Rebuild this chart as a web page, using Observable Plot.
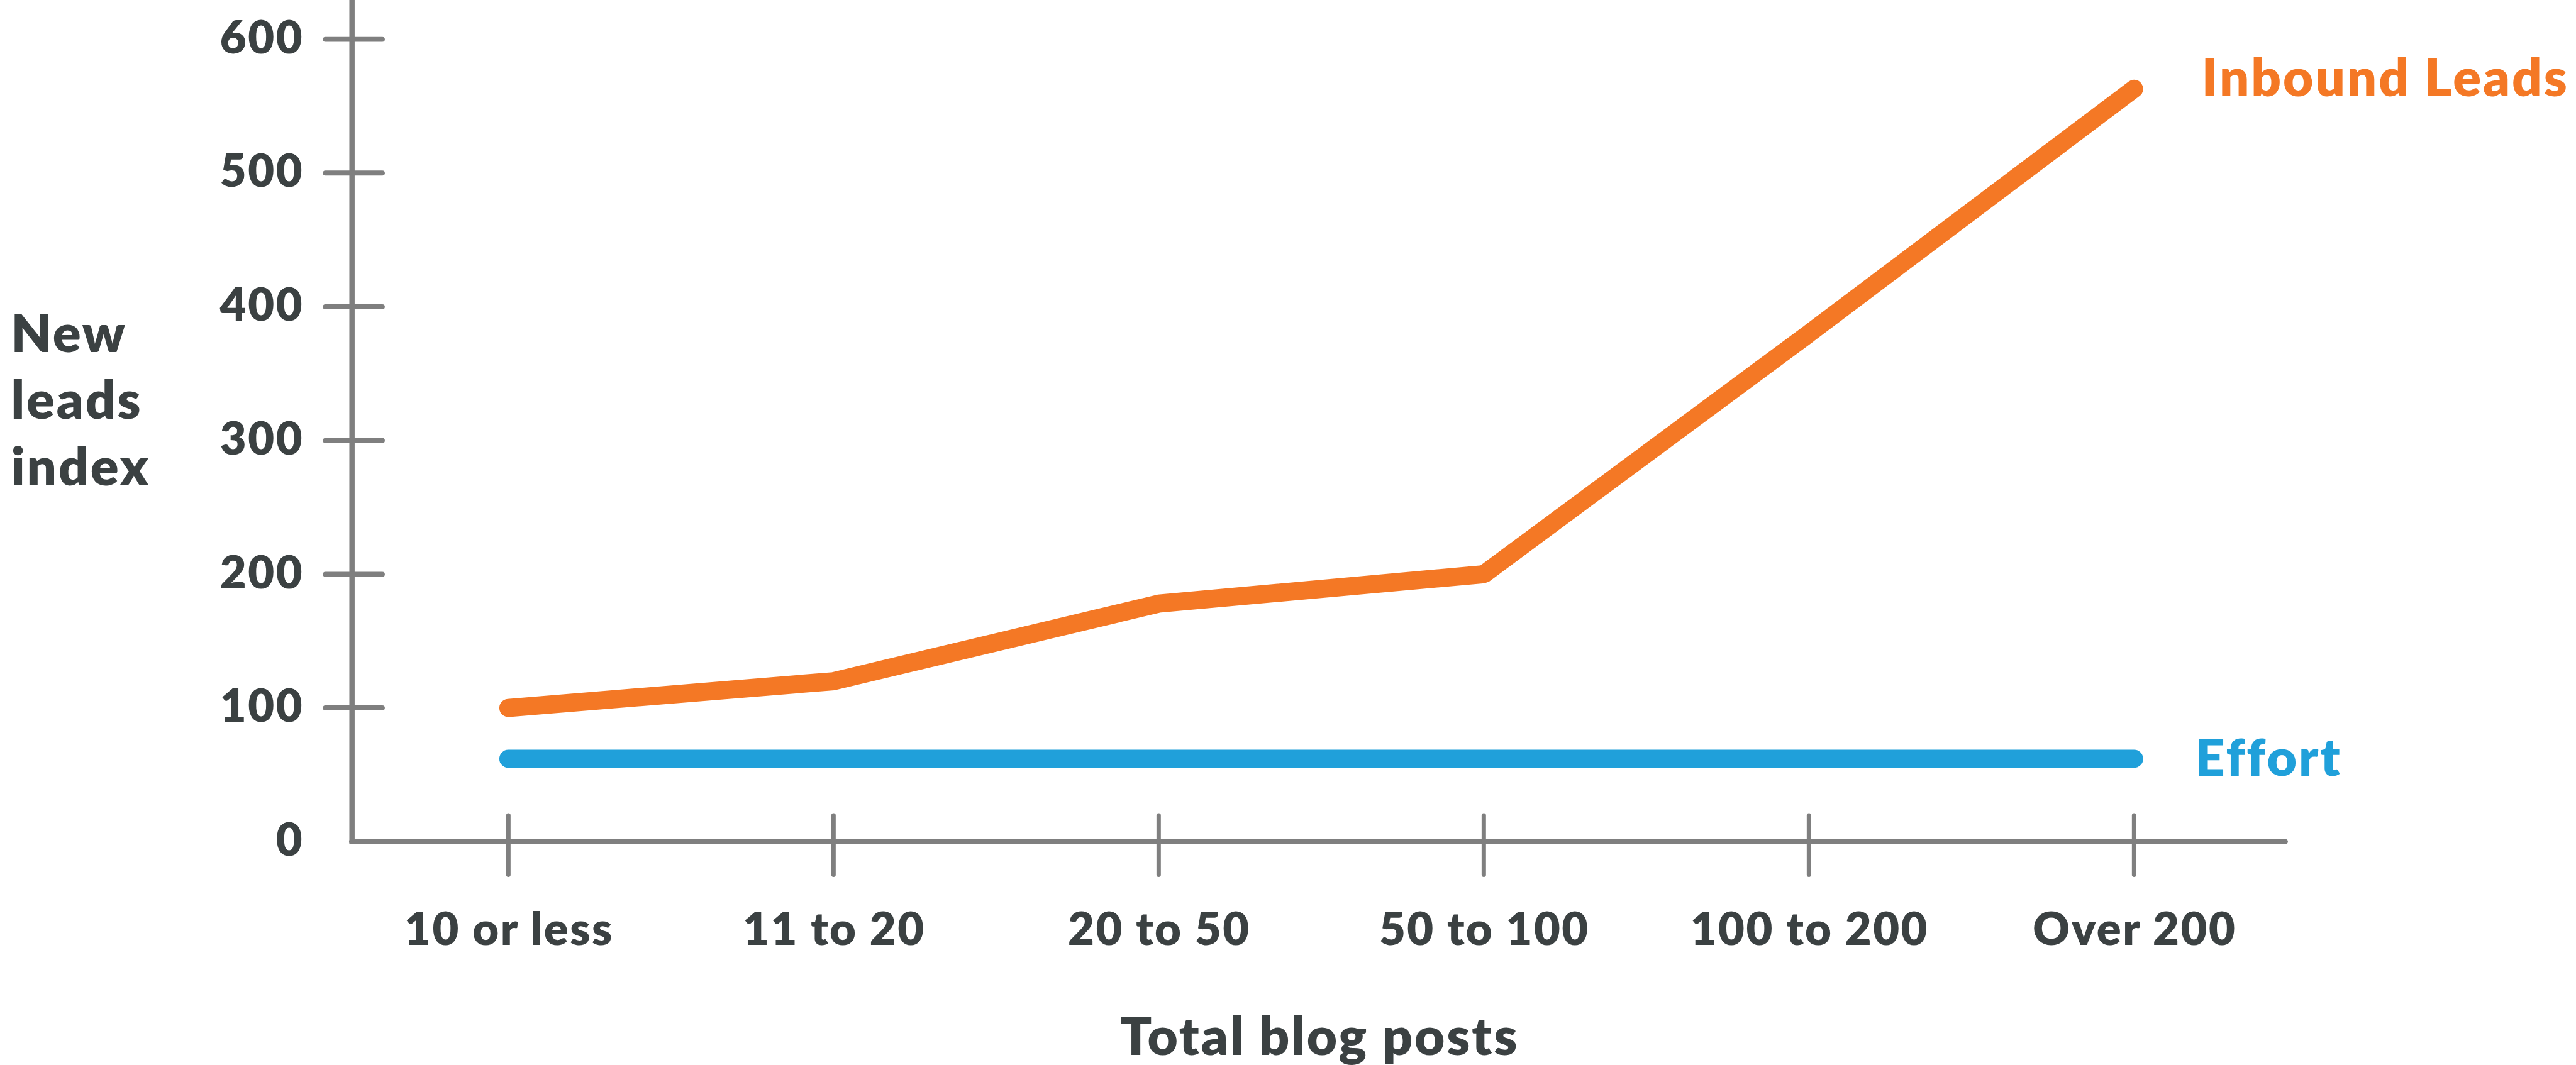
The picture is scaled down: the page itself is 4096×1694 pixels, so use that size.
<!DOCTYPE html>
<html>
<head>
<meta charset="utf-8">
<script src="https://cdn.jsdelivr.net/npm/d3@7"></script>
<script src="https://cdn.jsdelivr.net/npm/@observablehq/plot@0.6"></script>
<style>
  html, body { margin: 0; padding: 0; background: #ffffff; }
  #chart svg { display: block; }
  #chart svg text { letter-spacing: 0.035em; }
</style>
</head>
<body>
<div id="chart"></div>
<script>
// Blog post volume vs. new leads index
const categories = ["10 or less", "11 to 20", "20 to 50", "50 to 100", "100 to 200", "Over 200"];
const inboundLeads = [100, 120, 178, 200, 380, 563];
const effort = [62, 62, 62, 62, 62, 62];
const seriesNames = ["Inbound Leads", "Effort"];
const yTicks = [0, 100, 200, 300, 400, 500, 600];
const xTitle = "Total blog posts";
const yTitle = "New\nleads\nindex";

const S = 0.995;                 // overall drawing scale
const ink = "#3b4142";
const axisGray = "#7f7f7f";
const orange = "#f47825";
const blue = "#20a0da";
const heavy = 800;

const rows = categories.map((category, i) => ({
  i, category, leads: inboundLeads[i], effort: effort[i]
}));

const W = 4096, H = 1694;
const xDomain = [-0.481, 5.466];
const yDomain = [0, 629.2];

const chart = Plot.plot({
  width: W,
  height: H,
  marginTop: 0,
  marginLeft: 562 * S,
  marginRight: W - 3652 * S,
  marginBottom: H - 1345 * S,
  x: {type: "linear", domain: xDomain, axis: null},
  y: {type: "linear", domain: yDomain, axis: null},
  style: {fontFamily: "Lato, 'Open Sans', sans-serif", background: "#ffffff", overflow: "visible"},
  marks: [
    // y axis line and baseline
    Plot.ruleX([xDomain[0]], {stroke: axisGray, strokeWidth: 8.5 * S, strokeLinecap: "square"}),
    Plot.ruleY([0], {stroke: axisGray, strokeWidth: 8.5 * S, strokeLinecap: "round"}),
    // y ticks crossing the axis
    Plot.ruleY(yTicks.filter(d => d > 0), {
      x1: xDomain[0], x2: xDomain[0],
      insetLeft: -42 * S, insetRight: -49 * S,
      stroke: axisGray, strokeWidth: 8 * S, strokeLinecap: "round"
    }),
    // x ticks crossing the baseline
    Plot.ruleX(rows, {
      x: "i", y1: 0, y2: 0,
      insetTop: -41.5 * S, insetBottom: -53.5 * S,
      stroke: axisGray, strokeWidth: 7 * S, strokeLinecap: "round"
    }),
    // y tick labels
    Plot.text(yTicks, {
      x: xDomain[0], y: d => d, text: d => String(d),
      dx: -77 * S, dy: -1, textAnchor: "end", lineAnchor: "middle",
      fontSize: 72.6 * S, fontWeight: heavy, fill: ink
    }),
    // x tick labels
    Plot.text(rows, {
      x: "i", y: 0, text: "category",
      dx: 1, dy: 142 * S, textAnchor: "middle", lineAnchor: "middle",
      fontSize: 72.6 * S, fontWeight: heavy, fill: ink
    }),
    // axis titles
    Plot.text([xTitle], {
      frameAnchor: "bottom", text: d => d,
      dx: 1, dy: 314 * S, textAnchor: "middle", lineAnchor: "middle",
      fontSize: 83.7 * S, fontWeight: heavy, fill: ink
    }),
    Plot.text([yTitle], {
      frameAnchor: "top-left", text: d => d,
      dx: 17 * S - 562 * S, dy: 487 * S,
      textAnchor: "start", lineAnchor: "top", lineHeight: 1.27,
      fontSize: 83.7 * S, fontWeight: heavy, fill: ink
    }),
    // series
    Plot.line(rows, {
      x: "i", y: "effort", stroke: blue, strokeWidth: 29 * S,
      strokeLinecap: "round", strokeLinejoin: "miter"
    }),
    Plot.line(rows, {
      x: "i", y: "leads", stroke: orange, strokeWidth: 29 * S,
      strokeLinecap: "round", strokeLinejoin: "miter"
    }),
    // series labels at the line ends
    Plot.text(rows, Plot.selectLast({
      x: "i", y: "leads", text: () => seriesNames[0],
      dx: 108 * S, dy: -15 * S, textAnchor: "start", lineAnchor: "middle",
      fontSize: 83.7 * S, fontWeight: heavy, fill: orange
    })),
    Plot.text(rows, Plot.selectLast({
      x: "i", y: "effort", text: () => seriesNames[1],
      dx: 98 * S, dy: 1, textAnchor: "start", lineAnchor: "middle",
      fontSize: 82.5 * S, fontWeight: heavy, fill: blue
    }))
  ]
});

document.getElementById("chart").appendChild(chart);
</script>
</body>
</html>
